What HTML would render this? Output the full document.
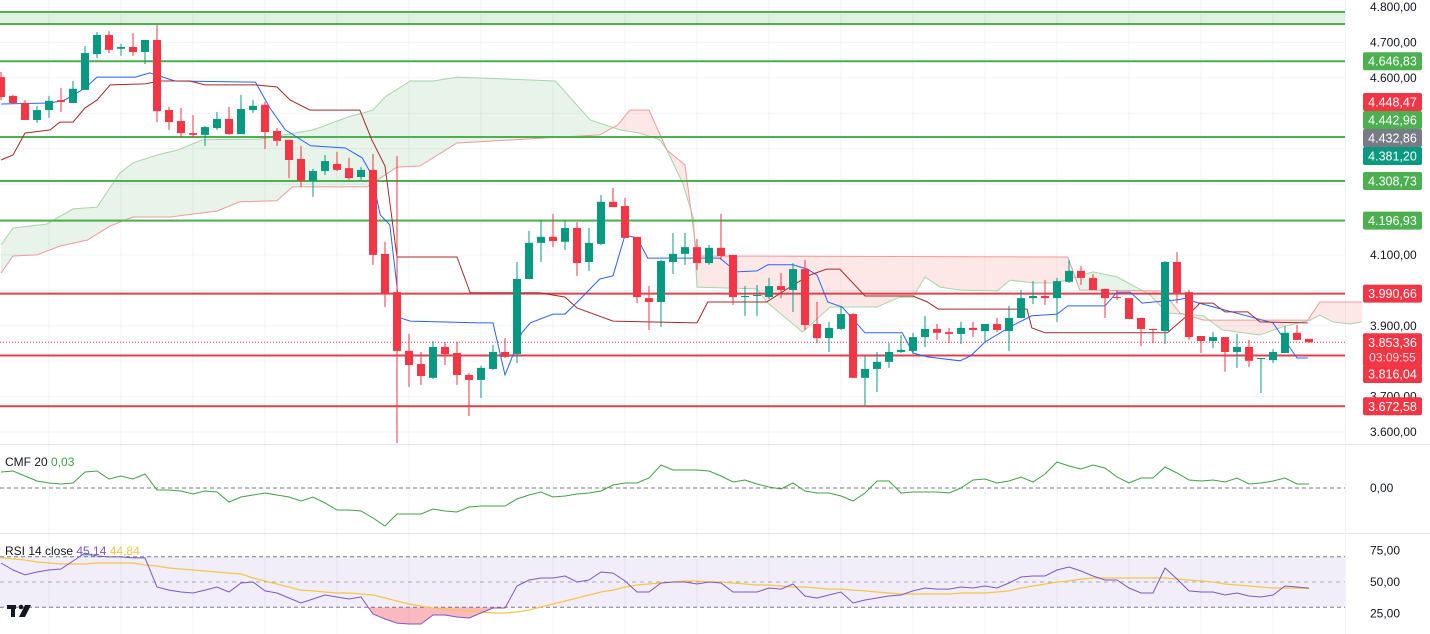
<!DOCTYPE html>
<html><head><meta charset="utf-8"><style>
html,body{margin:0;padding:0;background:#fff;}
svg{display:block;font-family:"Liberation Sans",sans-serif;}
</style></head><body>
<svg id="chart" width="1430" height="634" viewBox="0 0 1430 634" xmlns="http://www.w3.org/2000/svg">
<defs></defs>
<g id="grid"></g>
<g id="cloud"></g>
<g id="levels"></g>
<g id="lines"></g>
<g id="candles"></g>
<g id="cmf"></g>
<g id="rsi"></g>
<g id="axis"></g>
<g id="tags"></g>
<text x="5" y="466" font-size="12" fill="#131722">CMF 20 <tspan fill="#43a047">0,03</tspan></text>
<text x="5" y="555" font-size="12" fill="#131722">RSI 14 close <tspan fill="#7e57c2">45,14</tspan> <tspan fill="#f7c548">44,84</tspan></text>
<g fill="#131722">
<rect x="7" y="605" width="9" height="4"/><rect x="11" y="605" width="4" height="12"/>
<circle cx="21" cy="607" r="2.3"/><polygon points="25,605 31,605 25,617 19,617"/>
</g>
</svg>
<script>
// ---- data ----
const opens=[4602,4549,4529,4481,4509,4537,4529,4566,4667,4721,4682,4687,4673,4707,4509,4478,4444,4439,4458,4484,4441,4509,4524,4450,4425,4371,4309,4337,4357,4345,4320,4340,4103,3995,3829,3792,3753,3840,3823,3761,3747,3778,3826,3820,4032,4134,4151,4137,4176,4080,4131,4250,4238,4151,3978,3967,4080,4103,4122,4077,4120,4100,3981,3984,3981,4012,4001,4060,3905,3865,3891,3933,3753,3778,3798,3826,3829,3868,3891,3882,3877,3894,3885,3905,3885,3922,3978,3984,3978,4024,4055,4035,4004,3981,3978,3922,3891,3885,4080,3995,3871,3857,3868,3826,3840,3806,3803,3823,3880,3863];
const highs=[4617,4552,4537,4521,4549,4571,4591,4690,4729,4732,4696,4727,4707,4749,4518,4515,4495,4464,4504,4518,4552,4537,4532,4458,4425,4408,4343,4382,4391,4374,4348,4385,4137,4379,3877,3826,3857,3854,3854,3767,3787,3846,3865,4080,4168,4196,4216,4196,4193,4176,4269,4289,4261,4151,4012,4086,4162,4162,4145,4128,4216,4100,4012,4015,4035,4049,4077,4086,3967,3911,3956,3936,3815,3826,3851,3874,3880,3928,3905,3894,3911,3911,3905,3922,3956,4001,4026,4029,4035,4086,4069,4046,4004,4001,3978,3922,3891,4083,4108,4001,3871,3882,3868,3877,3860,3809,3834,3899,3902,3863];
const lows=[4537,4526,4481,4473,4487,4504,4529,4566,4656,4670,4662,4662,4639,4475,4453,4430,4430,4408,4453,4439,4441,4501,4399,4408,4317,4292,4264,4326,4337,4312,4312,4072,3953,3569,3727,3733,3750,3789,3733,3645,3696,3775,3809,3795,4032,4080,4122,4114,4041,4055,4128,4235,4148,3964,3888,3897,4046,4072,4057,4072,4086,3959,3928,3928,3976,3978,3939,3888,3851,3826,3888,3753,3673,3713,3781,3823,3820,3840,3860,3851,3849,3868,3851,3882,3829,3922,3961,3959,3911,4021,4015,4001,3922,3973,3919,3843,3851,3849,3964,3860,3823,3837,3770,3781,3784,3710,3795,3823,3860,3851];
const closes=[4546,4529,4481,4509,4535,4532,4569,4670,4721,4679,4687,4673,4707,4506,4475,4444,4439,4461,4484,4441,4512,4521,4447,4422,4368,4309,4337,4365,4340,4317,4340,4100,3990,3829,3789,3758,3840,3820,3761,3747,3781,3826,3812,4032,4134,4151,4139,4176,4077,4134,4250,4235,4148,3981,3967,4083,4103,4122,4077,4120,4097,3981,3984,3987,4012,4001,4060,3902,3865,3894,3933,3753,3778,3798,3826,3832,3868,3891,3880,3877,3894,3888,3905,3888,3922,3978,3984,3978,4026,4055,4035,4001,3978,3978,3919,3891,3888,4080,3993,3868,3857,3868,3826,3840,3801,3809,3826,3880,3860,3853.36];
const tenkanIdx=[0,4.1,5.3,7,8,11.2,12.4,14.5,21.2,22.4,23.7,25.8,28.7,30.1,30.9,31.6,32.4,33.3,34.1,39.9,41,42,43.4,44.1,46,47,48.2,49.9,51,52,53,53.9,59.9,61.3,63,63.9,66,67.2,68,68.9,70.1,72,75.1,76,77.2,79.9,80.8,82,84.1,85.9,88,88.9,92,93,94.1,95.1,98,98.8,99.5,106,108,108.9];
const tenkanVal=[4526,4529,4537,4571,4602,4602,4614,4591,4588,4515,4453,4408,4402,4374,4326,4213,4185,3922,3913,3908,3908,3761,3880,3908,3933,3933,3973,4032,4041,4156,4148,4091,4091,4052,4055,4072,4072,4060,4043,3967,3953,3880,3880,3823,3812,3801,3815,3854,3897,3928,3933,3956,3956,3995,3995,3964,3973,3978,3967,3908,3809,3809];
const kijunIdx=[0,1,2,4.1,4.9,6,7,8,9.1,12,13.25,15.75,17,21.2,23,24.1,25.75,29.9,30.9,32,33,38,39.1,44.9,47,48,51,58,58.9,63.8,65.75,67.4,68.8,69.9,72,76,77.2,78.1,85.5,85.9,87,97.2,99.1,99.9,101,102,103.9,104.9,108.9];
const kijunVal=[4368,4382,4444,4453,4475,4475,4515,4537,4580,4583,4591,4591,4580,4580,4574,4537,4509,4509,4425,4351,4094,4094,3993,3993,3981,3950,3913,3908,3967,3967,4009,4043,4060,4060,3984,3984,3967,3947,3947,3894,3880,3880,3936,3964,3964,3939,3939,3911,3908];
const spanAIdx=[0,1,3.8,6,8,9.9,11,13,14.7,16.8,21.6,26,28.9,31,32,34.1,36,38,46.2,49.1,51.6,53.25,54.9,55.5,56.8,57.7,58,63,63.8,66.8,69.1,73,74.9,76,77,78.25,79.9,83,84.1,86,88,89.6,91,93,94.7,95.75,97.2,100.2,101.8,104.9,106.8,109.1,109.9,111,112.4,113.4];
const spanAVal=[4128,4176,4187,4230,4235,4331,4360,4382,4396,4425,4427,4453,4489,4509,4546,4591,4591,4602,4591,4481,4453,4444,4425,4396,4303,4204,4009,4004,3967,3882,3953,3953,3981,3981,4038,4009,4001,3998,4029,4021,4021,4038,4052,4038,4007,3987,3936,3928,3888,3874,3897,3916,3930,3911,3905,3911];
const spanBIdx=[0,1,3,4.9,7.2,9.1,11,14.1,18,19.9,23,24.3,30.5,33,34.9,36.8,38,49.9,51.4,52.4,54,55.5,57,58,88.9,89.9,96.8,98.25,100.2,108.9,109.9,113.4];
const spanBVal=[4049,4097,4100,4125,4142,4182,4207,4207,4224,4250,4253,4292,4292,4348,4351,4391,4416,4439,4467,4509,4509,4396,4354,4097,4094,4001,3998,3936,3916,3916,3967,3967];
const cmfValues=[0.08,0.085,0.06,0.035,0.025,0.02,0.025,0.08,0.085,0.045,0.06,0.045,0.07,-0.01,-0.01,-0.015,-0.03,-0.015,-0.02,-0.07,-0.045,-0.035,-0.025,-0.035,-0.045,-0.065,-0.045,-0.075,-0.11,-0.11,-0.115,-0.15,-0.19,-0.13,-0.13,-0.13,-0.105,-0.115,-0.12,-0.095,-0.09,-0.09,-0.09,-0.055,-0.035,-0.02,-0.045,-0.04,-0.03,-0.025,-0.015,0.015,0.025,0.025,0.05,0.115,0.09,0.09,0.09,0.085,0.06,0.03,0.04,0.02,0.005,-0.005,0.025,-0.015,-0.025,-0.025,-0.04,-0.065,-0.025,0.035,0.035,-0.025,-0.02,-0.02,-0.02,-0.025,0,0.04,0.045,0.025,0.035,0.055,0.03,0.07,0.13,0.11,0.095,0.115,0.1,0.055,0.025,0.05,0.05,0.105,0.075,0.04,0.035,0.04,0.03,0.05,0.02,0.025,0.035,0.05,0.02,0.02];
const rsiValues=[65.1,59.5,55.6,57.9,59.5,60.3,66.7,73,70.6,69.9,69.9,69.1,69.1,46,43.6,42.1,41.3,43.6,46,42.1,49.2,50,42.9,41.3,37.3,33.3,36.5,39.7,38.1,36.5,38.1,24.6,20.6,17.4,16.7,16.7,23.8,23.8,22.2,21.4,25.4,29.4,29.4,46.8,51.6,53.2,53.2,54.8,50,51.6,57.9,57.1,50.8,42.1,42.1,49.2,50,50,48.4,50,49.2,42.1,42.1,42.1,45.2,44.4,48.4,38.9,37.3,39.7,42.1,33.3,35.7,37.3,38.9,39.7,42.9,45.2,44.4,44.4,46,45.2,46.8,45.2,49.2,54,54.8,54.8,59.5,61.9,58.7,54.8,51.6,51.6,45.2,41.3,41.3,61.1,52.4,42.9,42.1,42.1,39.7,41.3,38.9,38.1,39.7,46.8,46,45.14];
const rsiMAValues=[69.1,68.3,67.5,65.9,65.1,64.3,64.3,64.3,65.1,65.1,65.1,65.1,63.5,62.7,61.1,60.3,59.5,58.7,57.9,57.1,56.4,53.2,50.8,48.4,46,43.6,42.9,42.1,41.3,41.3,40.5,39.7,37.3,34.9,32.5,30.9,29.4,28.6,27.8,27,26.2,25.4,25.4,26.2,27.8,30.2,32.5,34.9,37.3,39.7,42.1,43.6,46,47.6,48.4,49.2,50,50.8,50.8,50,50,49.2,48.4,47.6,47.6,46.8,46,46,45.2,44.4,44.4,43.6,42.9,42.1,41.3,40.5,40.5,40.5,40.5,40.5,41.3,41.3,41.3,42.1,42.9,45.2,46.8,48.4,50,50.8,52.4,53.2,53.2,53.2,53.2,53.2,53.2,53.2,52.4,51.6,50.8,50,48.4,47.6,46.8,46,45.2,45.2,45.2,44.84];
const priceTicks=[4800,4700,4600,4100,3900,3700,3600];
const greenLevels=[4786,4752,4646.83,4432.86,4308.73,4196.93];
const redLevels=[3990.66,3816.04,3672.58];
const lastPrice=3853.36;
const rsiTicks=[75,50,25];

// ---- axes ----
const NS="http://www.w3.org/2000/svg";
const PLOT_R=1345;
const xI=i=>1+12*i;
const yP=p=>7+(4800-p)*425/1200;
const yC=v=>488-v*200;
const yR=v=>582-(v-50)*1.26;
const fmt=v=>{const s=v.toFixed(2).split('.');return s[0].replace(/\B(?=(\d{3})+(?!\d))/g,'.')+','+s[1];};
function mk(tag,attrs,parent){const e=document.createElementNS(NS,tag);for(const k in attrs)e.setAttribute(k,attrs[k]);parent.appendChild(e);return e;}
const $=id=>document.getElementById(id);

// grid
const grid=$('grid');
for(let p=3600;p<=4800;p+=100){const l=mk('line',{x1:0,x2:PLOT_R,y1:yP(p),y2:yP(p),stroke:'#f0f3fa'},grid);

}
for(let x=49;x<PLOT_R;x+=72){const l=mk('line',{x1:x,x2:x,y1:0,y2:634,stroke:'#f0f3fa'},grid);

}
mk('line',{x1:0,x2:1430,y1:444.5,y2:444.5,stroke:'#e0e3eb'},grid);
mk('line',{x1:0,x2:1430,y1:533.5,y2:533.5,stroke:'#e0e3eb'},grid);
mk('line',{x1:PLOT_R+0.5,x2:PLOT_R+0.5,y1:0,y2:634,stroke:'#f0f3fa'},grid);

// cloud
const pts=(I,V)=>I.map((i,k)=>xI(i).toFixed(1)+','+yP(V[k]).toFixed(1));
const defs=document.querySelector('defs');
const aPts=pts(spanAIdx,spanAVal), bPts=pts(spanBIdx,spanBVal);
const x0=xI(0), xE=xI(spanAIdx[spanAIdx.length-1]);
const cpA=mk('clipPath',{id:'aboveB'},defs);mk('polygon',{points:[x0+',0',...bPts,xE+',0'].join(' ')},cpA);
const cpB=mk('clipPath',{id:'aboveA'},defs);mk('polygon',{points:[x0+',0',...aPts,xE+',0'].join(' ')},cpB);
const cloud=$('cloud');
const gf=mk('polygon',{points:[...aPts,xE+',444',x0+',444'].join(' '),fill:'rgba(67,160,71,0.12)','clip-path':'url(#aboveB)'},cloud);


const rf=mk('polygon',{points:[...bPts,xE+',444',x0+',444'].join(' '),fill:'rgba(244,67,54,0.12)','clip-path':'url(#aboveA)'},cloud);


const la=mk('polyline',{points:aPts.join(' '),fill:'none',stroke:'#a5d6a7','stroke-width':1},cloud);


const lb=mk('polyline',{points:bPts.join(' '),fill:'none',stroke:'#ef9a9a','stroke-width':1},cloud);



// levels
const lv=$('levels');
const band=mk('rect',{x:0,y:yP(greenLevels[0]),width:PLOT_R,height:yP(greenLevels[1])-yP(greenLevels[0]),fill:'rgba(76,175,80,0.18)'},lv);


greenLevels.forEach(p=>{const l=mk('line',{x1:0,x2:PLOT_R,y1:yP(p),y2:yP(p),stroke:'#4caf50','stroke-width':2},lv);

});
redLevels.forEach(p=>{const l=mk('line',{x1:0,x2:PLOT_R,y1:yP(p),y2:yP(p),stroke:'#e0404c','stroke-width':2},lv);

});
const pl=mk('line',{x1:0,x2:PLOT_R,y1:yP(lastPrice),y2:yP(lastPrice),stroke:'#f23645','stroke-width':1,'stroke-dasharray':'1 2'},lv);



// ichimoku lines
const ln=$('lines');
const tk=mk('polyline',{points:pts(tenkanIdx,tenkanVal).join(' '),fill:'none',stroke:'#2962ff','stroke-width':1},ln);


const kj=mk('polyline',{points:pts(kijunIdx,kijunVal).join(' '),fill:'none',stroke:'#a52a2a','stroke-width':1},ln);



// candles
const cg=$('candles');
opens.forEach((o,i)=>{
  const c=closes[i],up=c>=o,col=up?'#089981':'#f23645',x=xI(i);
  const g=mk('g',{},cg);
  
  
  mk('line',{x1:x,x2:x,y1:yP(highs[i]),y2:yP(lows[i]),stroke:col,'stroke-width':1},g);
  const t=yP(Math.max(o,c)),b=yP(Math.min(o,c));
  mk('rect',{x:x-4,y:t,width:8,height:Math.max(1,b-t),fill:col},g);
});

// CMF
const cm=$('cmf');
const z=mk('line',{x1:0,x2:PLOT_R,y1:yC(0),y2:yC(0),stroke:'#787b86','stroke-dasharray':'4 3'},cm);


const cl=mk('polyline',{points:cmfValues.map((v,i)=>xI(i)+','+yC(v).toFixed(1)).join(' '),fill:'none',stroke:'#43a047','stroke-width':1},cm);


const ct=mk('text',{x:1370,y:yC(0)+4,'font-size':12,fill:'#131722'},cm);ct.textContent='0,00';



// RSI
const rs=$('rsi');
const bg=mk('rect',{x:0,y:yR(70),width:PLOT_R,height:yR(30)-yR(70),fill:'rgba(126,87,194,0.1)'},rs);


[70,50,30].forEach(v=>{const l=mk('line',{x1:0,x2:PLOT_R,y1:yR(v),y2:yR(v),stroke:'#787b86','stroke-dasharray':v==50?'4 4':'4 3','stroke-opacity':v==50?0.6:1},rs);

});
const rP=rsiValues.map((v,i)=>xI(i)+','+yR(v).toFixed(1));
const cpO=mk('clipPath',{id:'below30'},defs);mk('rect',{x:0,y:yR(30),width:PLOT_R,height:100},cpO);
const cpH=mk('clipPath',{id:'above70'},defs);mk('rect',{x:0,y:0,width:PLOT_R,height:yR(70)},cpH);
const os=mk('polygon',{points:[...rP,xI(rsiValues.length-1)+','+yR(30),xI(0)+','+yR(30)].join(' '),fill:'rgba(242,54,69,0.35)','clip-path':'url(#below30)'},rs);


const ob=mk('polygon',{points:[...rP,xI(rsiValues.length-1)+','+yR(70),xI(0)+','+yR(70)].join(' '),fill:'rgba(8,153,129,0.3)','clip-path':'url(#above70)'},rs);


const ma=mk('polyline',{points:rsiMAValues.map((v,i)=>xI(i)+','+yR(v).toFixed(1)).join(' '),fill:'none',stroke:'#f7c548','stroke-width':1.2},rs);


const rl=mk('polyline',{points:rP.join(' '),fill:'none',stroke:'#7e57c2','stroke-width':1},rs);


rsiTicks.forEach(v=>{const t=mk('text',{x:1370,y:yR(v)+4,'font-size':12,fill:'#131722'},rs);t.textContent=fmt(v);

});

// price axis
const ax=$('axis');
priceTicks.forEach(p=>{const t=mk('text',{x:1370,y:yP(p)+4,'font-size':12,fill:'#131722'},ax);t.textContent=fmt(p);

});

// tags
const tg=$('tags');
const tagVals=[4646.83,4448.47,4442.96,4432.86,4381.20,4308.73,4196.93,3990.66,3816.04,3672.58];
const tagCols=['#4caf50','#f23645','#4caf50','#787b86','#089981','#4caf50','#4caf50','#f23645','#f23645','#f23645'];
const tagCenters={'4448.47':102,'4442.96':120,'4432.86':138,'4381.2':156,'3816.04':374};
tagVals.forEach((v,k)=>{
  const cy=tagCenters[String(v)]!==undefined?tagCenters[String(v)]:yP(v);
  const g=mk('g',{},tg);
  
  
  mk('rect',{x:1363,y:cy-9,width:59,height:18,rx:2,fill:tagCols[k]},g);
  const t=mk('text',{x:1392.5,y:cy+4.5,'font-size':12.5,fill:'#fff','text-anchor':'middle'},g);t.textContent=fmt(v);
});
const lg=mk('g',{},tg);


mk('rect',{x:1363,y:yP(lastPrice)-9,width:59,height:33,rx:2,fill:'#f23645'},lg);
const t1=mk('text',{x:1392.5,y:yP(lastPrice)+4.5,'font-size':12.5,fill:'#fff','text-anchor':'middle'},lg);t1.textContent=fmt(lastPrice);
const t2=mk('text',{x:1392.5,y:yP(lastPrice)+19,'font-size':12,fill:'#ffd9dc','text-anchor':'middle'},lg);t2.textContent='03:09:55';
</script>
</body></html>
